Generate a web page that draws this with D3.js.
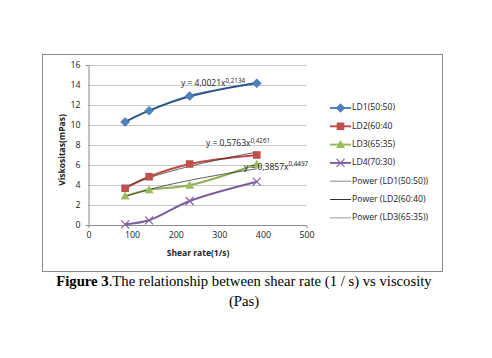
<!DOCTYPE html>
<html><head><meta charset="utf-8">
<script src="https://cdn.jsdelivr.net/npm/d3@7"></script>
<style>body{margin:0;background:#fff}svg{display:block}</style>
</head><body>
<svg id="c" width="492" height="358"></svg>
<script>
const shearRate = [84, 139, 232, 386];
const seriesNames = ["LD1(50:50)", "LD2(60:40", "LD3(65:35)", "LD4(70:30)"];
const ld1 = [10.3, 11.43, 12.9, 14.17];
const ld2 = [3.67, 4.83, 6.1, 7.0];
const ld3 = [2.9, 3.53, 3.97, 6.07];
const ld4 = [0.07, 0.47, 2.4, 4.33];
const trendNames = ["Power (LD1(50:50))", "Power (LD2(60:40)", "Power (LD3(65:35))"];
const trendA = [4.0021, 0.5763, 0.3857];
const trendB = [0.2134, 0.4261, 0.4497];
const trendLabels = ["4,0021", "0,5763", "0,3857"];
const trendExp = ["0,2134", "0,4261", "0,4497"];
const xTicks = [0, 100, 200, 300, 400, 500];
const yTicks = [0, 2, 4, 6, 8, 10, 12, 14, 16];

const svg = d3.select("#c");
const x = d3.scaleLinear().domain([0, 500]).range([88.5, 306.5]);
const y = d3.scaleLinear().domain([0, 16]).range([225, 65]);
const font = "'Open Sans', 'Noto Sans', sans-serif";

// frame
svg.append("rect").attr("x", 42.5).attr("y", 54.5).attr("width", 400).attr("height", 217)
  .attr("fill", "#fff").attr("stroke", "#8a8a8a").attr("stroke-width", 1);

// gridlines
svg.append("g").selectAll("line").data(yTicks.filter(d => d > 0)).join("line")
  .attr("x1", x(0)).attr("x2", x(500)).attr("y1", d => Math.round(y(d)) + 0.5).attr("y2", d => Math.round(y(d)) + 0.5)
  .attr("stroke", "#c8c8c8").attr("stroke-width", 1);

// axes
const yAxis = d3.axisLeft(y).tickValues(yTicks).tickSize(3).tickPadding(5);
const gy = svg.append("g").attr("transform", `translate(${x(0)},0)`).call(yAxis);
const xAxis = d3.axisBottom(x).tickValues(xTicks).tickSize(3).tickPadding(4);
const gx = svg.append("g").attr("transform", `translate(0,${y(0)})`).call(xAxis);
[gx, gy].forEach(g => {
  g.select(".domain").attr("stroke", "#8a8a8a");
  g.selectAll(".tick line").attr("stroke", "#8a8a8a");
  g.selectAll(".tick text").attr("fill", "#222").style("font-family", font).style("font-size", "8.8px");
});
gy.selectAll(".tick line").attr("x2", 0);
gx.selectAll(".tick line").attr("y2", 0);

// axis titles
svg.append("text").attr("transform", `translate(63,150) rotate(-90)`).attr("text-anchor", "middle")
  .attr("dominant-baseline", "middle").style("font-family", font).style("font-size", "8.5px")
  .style("font-weight", "bold").attr("fill", "#222").text("Viskositas(mPas)");
svg.append("text").attr("x", 198).attr("y", 256).attr("text-anchor", "middle")
  .style("font-family", font).style("font-size", "8.5px").style("font-weight", "bold").attr("fill", "#222")
  .text("Shear rate(1/s)");

const colors = ["#4F81BD", "#C0504D", "#9BBB59", "#8064A2"];
const lineColors = ["#3C6AA5", "#BE4B48", "#8FB04E", "#7A5E9E"];
const data = [ld1, ld2, ld3, ld4];
const line = d3.line().x(d => x(d[0])).y(d => y(d[1])).curve(d3.curveCatmullRom.alpha(0.5));

data.forEach((s, i) => {
  svg.append("path").datum(shearRate.map((v, j) => [v, s[j]])).attr("d", line)
    .attr("fill", "none").attr("stroke", lineColors[i]).attr("stroke-width", 2);
});

// trendlines
const trendColors = ["#1f3f6a", "#333", "#333"];
trendA.forEach((a, i) => {
  const pts = d3.range(0, 51).map(k => {
    const xv = shearRate[0] + (shearRate[3] - shearRate[0]) * k / 50;
    return [xv, a * Math.pow(xv, trendB[i])];
  });
  svg.append("path").datum(pts).attr("d", d3.line().x(d => x(d[0])).y(d => y(d[1])))
    .attr("fill", "none").attr("stroke", trendColors[i]).attr("stroke-width", 0.8);
});

function marker(g, type, cx, cy, col) {
  if (type === 0) {
    g.append("path").attr("d", `M${cx},${cy-4.5}L${cx+4.5},${cy}L${cx},${cy+4.5}L${cx-4.5},${cy}Z`).attr("fill", col).attr("stroke", "#3a66a0").attr("stroke-width", 0.5);
  } else if (type === 1) {
    g.append("rect").attr("x", cx - 3.8).attr("y", cy - 3.8).attr("width", 7.6).attr("height", 7.6).attr("fill", col);
  } else if (type === 2) {
    g.append("path").attr("d", `M${cx},${cy-4.5}L${cx+4.5},${cy+3.5}L${cx-4.5},${cy+3.5}Z`).attr("fill", col);
  } else {
    g.append("path").attr("d", `M${cx-4},${cy-4}L${cx+4},${cy+4}M${cx-4},${cy+4}L${cx+4},${cy-4}`).attr("stroke", col).attr("stroke-width", 1.2).attr("fill", "none");
  }
}
const mg = svg.append("g");
data.forEach((s, i) => {
  s.forEach((v, j) => marker(mg, i, x(shearRate[j]), y(v), colors[i]));
});

// equation labels
const eqPos = [[181, 86], [206, 146], [244, 169.5]];
trendLabels.forEach((t, i) => {
  const tx = svg.append("text").attr("x", eqPos[i][0]).attr("y", eqPos[i][1])
    .style("font-family", font).style("font-size", "8.5px").attr("fill", "#222");
  tx.append("tspan").text(`y = ${t}x`);
  tx.append("tspan").attr("dy", -3.5).style("font-size", "6.3px").text(trendExp[i]);
});

// legend
const legY0 = 108, legDy = 18.3;
seriesNames.forEach((n, i) => {
  const ly = legY0 + i * legDy;
  svg.append("line").attr("x1", 330).attr("x2", 351).attr("y1", ly).attr("y2", ly).attr("stroke", colors[i]).attr("stroke-width", 2);
  marker(svg, i, 340.5, ly, colors[i]);
  svg.append("text").attr("x", 352).attr("y", ly).attr("dominant-baseline", "middle")
    .style("font-family", font).style("font-size", "8.7px").attr("fill", "#222").text(n);
});
const legTrendCols = ["#8a8a8a", "#333", "#bdbdbd"];
trendNames.forEach((n, i) => {
  const ly = legY0 + (i + 4) * legDy;
  svg.append("line").attr("x1", 330).attr("x2", 351).attr("y1", ly).attr("y2", ly).attr("stroke", legTrendCols[i]).attr("stroke-width", i === 2 ? 1.5 : 1);
  svg.append("text").attr("x", 352).attr("y", ly).attr("dominant-baseline", "middle")
    .style("font-family", font).style("font-size", "8.7px").attr("fill", "#222").text(n);
});

// caption
const serif = "'Liberation Serif', 'Times New Roman', serif";
const cap = svg.append("text").attr("x", 244).attr("y", 286).attr("text-anchor", "middle")
  .style("font-family", serif).style("font-size", "14.7px").attr("fill", "#000");
cap.append("tspan").style("font-weight", "bold").text("Figure 3");
cap.append("tspan").text(".The relationship between shear rate (1 / s) vs viscosity");
svg.append("text").attr("x", 244).attr("y", 306).attr("text-anchor", "middle")
  .style("font-family", serif).style("font-size", "14.7px").attr("fill", "#000").text("(Pas)");
</script>
</body></html>
